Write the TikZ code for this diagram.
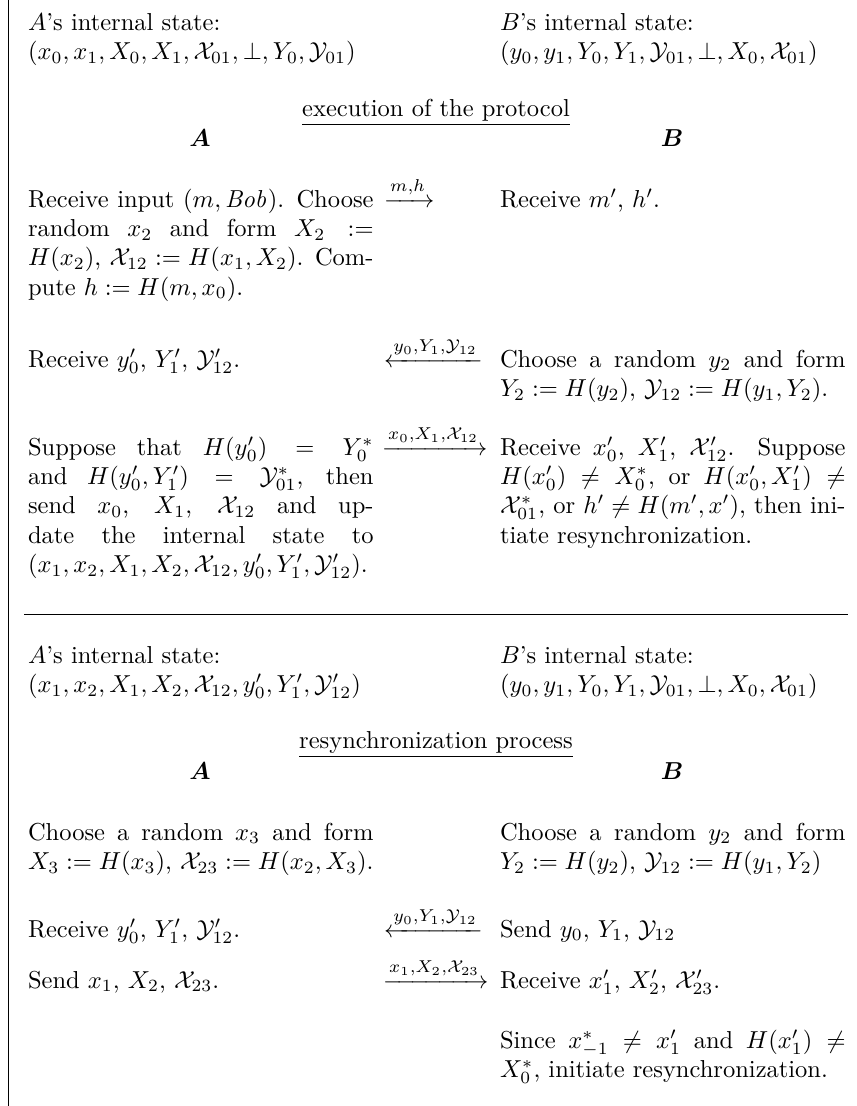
\documentclass[tikz,border=0pt]{standalone}
\usepackage{amsmath}
\usepackage{bm}
\newcommand{\cellbox}[1]{\parbox[t]{141pt}{#1}}
\begin{document}
\begin{tikzpicture}[x=0.408pt,y=-0.408pt,
  txt/.style={anchor=base west,inner sep=0pt,outer sep=0pt},
  hdr/.style={anchor=base,inner sep=0pt,outer sep=0pt},
  msg/.style={anchor=base west,inner sep=0pt,outer sep=0pt},
  rulestyle/.style={line width=0.4pt}]
\useasboundingbox (0,0) rectangle (856,1106);
% frame
\coordinate (ftop) at (8,0);
\coordinate (fbot) at (8,1106);
\draw[rulestyle] (ftop) -- (fbot);
\coordinate (rl) at (24,614);
\coordinate (rr) at (848,614);
\draw[rulestyle] (rl) -- (rr);

% ---------- section 1 ----------
\node[txt] (sA1) at (28,30) {\cellbox{\raggedright $A$'s internal state:\\ $(x_0, x_1, X_0, X_1, \mathcal{X}_{01}, \bot, Y_0, \mathcal{Y}_{01})$}};
\node[txt] (sB1) at (500,30) {\cellbox{\raggedright $B$'s internal state:\\ $(y_0, y_1, Y_0, Y_1, \mathcal{Y}_{01}, \bot, X_0, \mathcal{X}_{01})$}};
\node[hdr] (h1) at (436,116) {\underline{execution of the protocol}};
\node[hdr] (pA1) at (200,146) {$\bm{A}$};
\node[hdr] (pB1) at (672,146) {$\bm{B}$};

\node[txt] (a11) at (28,207) {\cellbox{Receive input $(m, \mathit{Bob})$. Choose\linebreak random $x_2$ and form $X_2 :=$\linebreak $H(x_2)$, $\mathcal{X}_{12} := H(x_1, X_2)$. Com-\linebreak pute $h := H(m, x_0)$.}};
\node[msg] (m11) at (384,207) {$\xrightarrow{m,h}$};
\node[txt] (b11) at (500,207) {\cellbox{Receive $m'$, $h'$.}};

\node[txt] (a12) at (28,367) {\cellbox{Receive $y_0'$, $Y_1'$, $\mathcal{Y}_{12}'$.}};
\node[msg] (m12) at (384,367) {$\xleftarrow{y_0,Y_1,\mathcal{Y}_{12}}$};
\node[txt] (b12) at (500,367) {\cellbox{Choose a random $y_2$ and form\linebreak $Y_2 := H(y_2)$, $\mathcal{Y}_{12} := H(y_1, Y_2)$.}};

\node[txt] (a13) at (28,455) {\cellbox{Suppose that $H(y_0') = Y_0^*$\linebreak and $H(y_0', Y_1') = \mathcal{Y}_{01}^*$, then\linebreak send $x_0$, $X_1$, $\mathcal{X}_{12}$ and up-\linebreak date the internal state to\linebreak $(x_1, x_2, X_1, X_2, \mathcal{X}_{12}, y_0', Y_1', \mathcal{Y}_{12}')$.}};
\node[msg] (m13) at (382,455) {$\xrightarrow{x_0,X_1,\mathcal{X}_{12}}$};
\node[txt] (b13) at (500,455) {\cellbox{Receive $x_0'$, $X_1'$, $\mathcal{X}_{12}'$. Suppose\linebreak $H(x_0') \neq X_0^*$, or $H(x_0', X_1') \neq$\linebreak $\mathcal{X}_{01}^*$, or $h' \neq H(m', x')$, then ini-\linebreak tiate resynchronization.}};

% ---------- section 2 ----------
\node[txt] (sA2) at (28,663) {\cellbox{\raggedright $A$'s internal state:\\ $(x_1, x_2, X_1, X_2, \mathcal{X}_{12}, y_0', Y_1', \mathcal{Y}_{12}')$}};
\node[txt] (sB2) at (500,663) {\cellbox{\raggedright $B$'s internal state:\\ $(y_0, y_1, Y_0, Y_1, \mathcal{Y}_{01}, \bot, X_0, \mathcal{X}_{01})$}};
\node[hdr] (h2) at (436,748) {\underline{resynchronization process}};
\node[hdr] (pA2) at (200,779) {$\bm{A}$};
\node[hdr] (pB2) at (672,779) {$\bm{B}$};

\node[txt] (a21) at (28,840) {\cellbox{Choose a random $x_3$ and form\linebreak \mbox{$X_3 := H(x_3)$, $\mathcal{X}_{23} := H(x_2, X_3)$.}}};
\node[txt] (b21) at (500,840) {\cellbox{Choose a random $y_2$ and form\linebreak $Y_2 := H(y_2)$, $\mathcal{Y}_{12} := H(y_1, Y_2)$}};

\node[txt] (a22) at (28,937) {\cellbox{Receive $y_0'$, $Y_1'$, $\mathcal{Y}_{12}'$.}};
\node[msg] (m22) at (384,937) {$\xleftarrow{y_0,Y_1,\mathcal{Y}_{12}}$};
\node[txt] (b22) at (500,937) {\cellbox{Send $y_0$, $Y_1$, $\mathcal{Y}_{12}$}};

\node[txt] (a23) at (28,988) {\cellbox{Send $x_1$, $X_2$, $\mathcal{X}_{23}$.}};
\node[msg] (m23) at (383,988) {$\xrightarrow{x_1,X_2,\mathcal{X}_{23}}$};
\node[txt] (b23) at (500,988) {\cellbox{Receive $x_1'$, $X_2'$, $\mathcal{X}_{23}'$.}};

\node[txt] (b24) at (500,1048) {\cellbox{Since $x_{-1}^* \neq x_1'$ and $H(x_1') \neq$\linebreak $X_0^*$, initiate resynchronization.}};
\end{tikzpicture}
\end{document}
